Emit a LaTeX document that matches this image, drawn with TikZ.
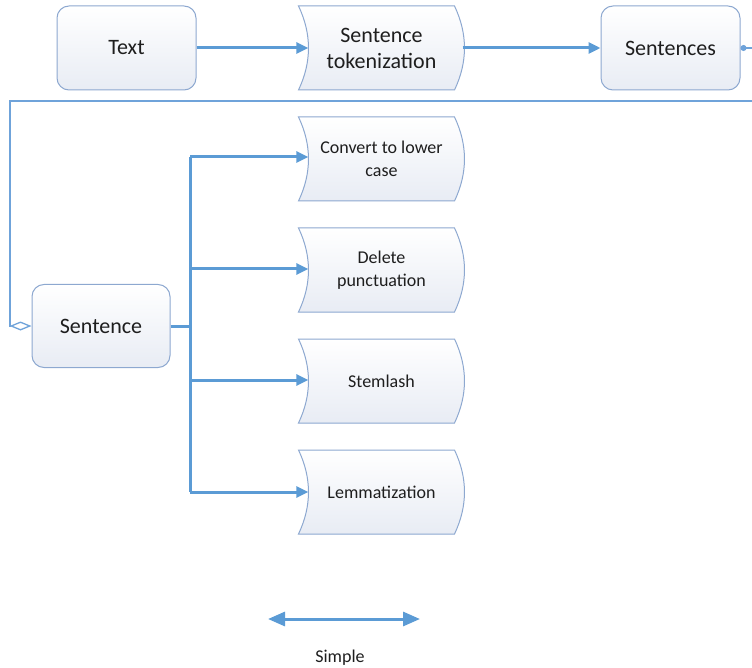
\documentclass[tikz,border=0pt]{standalone}
\usepackage{fontspec}
\setmainfont{Carlito}
\usetikzlibrary{arrows.meta,backgrounds}
\definecolor{bord}{HTML}{8DA8D0}
\definecolor{flow}{HTML}{5B9BD5}
\definecolor{thinflow}{HTML}{6FA3DA}
\definecolor{fillb}{HTML}{E8ECF4}
\definecolor{txt}{HTML}{1E1E1E}
\newcommand\curveshape[1]{%
  \begin{scope}[on background layer, shift={(#1.center)}]
    \draw[draw=bord, line width=1pt, top color=white, bottom color=fillb]
      (-83,-42) .. controls (-69.7,-14) and (-69.7,14) .. (-83,42)
      -- (73,42) .. controls (86.3,14) and (86.3,-14) .. (73,-42) -- cycle;
  \end{scope}}
\begin{document}
\begin{tikzpicture}[x=1pt,y=-1pt,
  rbox/.style={draw=bord, line width=1pt, rounded corners=12pt, top color=white, bottom color=fillb,
    minimum width=139pt, minimum height=84pt, text=txt, font=\fontsize{22}{26}\selectfont, align=center, inner sep=0pt},
  wbox/.style={minimum width=166pt, minimum height=84pt, text=txt, align=center, inner sep=0pt},
  bigtext/.style={font=\fontsize{22}{26}\selectfont},
  smalltext/.style={font=\fontsize{18}{23}\selectfont},
  thick flow/.style={draw=flow, line width=3pt},
  flowarrow/.style={thick flow, -{Triangle[length=12pt,width=11pt]}},
  thin link/.style={draw=thinflow, line width=1.3pt}]
\useasboundingbox (0,0) rectangle (752,668);

\node[rbox] (text) at (126.5,48) {Text};
\node[wbox, bigtext] (tok) at (381.5,48) {Sentence\\tokenization};
\curveshape{tok}
\node[rbox] (sents) at (670.5,48) {Sentences};

\node[rbox, minimum width=138pt, minimum height=83pt] (sent) at (101,326) {Sentence};

\node[wbox, smalltext] (c1) at (381.5,159) {Convert to lower\\case};
\curveshape{c1}
\node[wbox, smalltext] (c2) at (381.5,270) {Delete\\punctuation};
\curveshape{c2}
\node[wbox, smalltext] (c3) at (381.5,381) {Stemlash};
\curveshape{c3}
\node[wbox, smalltext] (c4) at (381.5,492) {Lemmatization};
\curveshape{c4}

\draw[flowarrow] (text.east) -- ([xshift=10pt]tok.west);
\draw[flowarrow] ([xshift=-2pt]tok.east) -- (sents.west);

\coordinate (wr) at (765,48);
\coordinate (wl) at (10,101);
\draw[thin link, {Circle[length=6pt]}-{Diamond[open,length=22pt,width=9pt,fill=white]}]
  (sents.east) -- (wr) |- (wl) |- (sent.west);

\coordinate (bt) at (190,157);
\coordinate (bb) at (190,492);
\draw[thick flow] (sent.east) -- (bt |- sent.east);
\draw[thick flow] (bt) -- (bb);
\draw[flowarrow] (bt) -- ([xshift=10pt]bt -| c1.west);
\draw[flowarrow] (190,269) -- ([xshift=10pt]c2.west |- 0,269);
\draw[flowarrow] (190,380) -- ([xshift=10pt]c3.west |- 0,380);
\draw[flowarrow] (bb) -- ([xshift=10pt]bb -| c4.west);

\coordinate (la) at (268,619);
\coordinate (lb) at (420,619);
\draw[thick flow, {Triangle[length=17pt,width=14pt]}-{Triangle[length=17pt,width=14pt]}] (la) -- (lb);
\node[text=txt, font=\fontsize{18}{20}\selectfont] (simple) at (340,658) {Simple};
\end{tikzpicture}
\end{document}
